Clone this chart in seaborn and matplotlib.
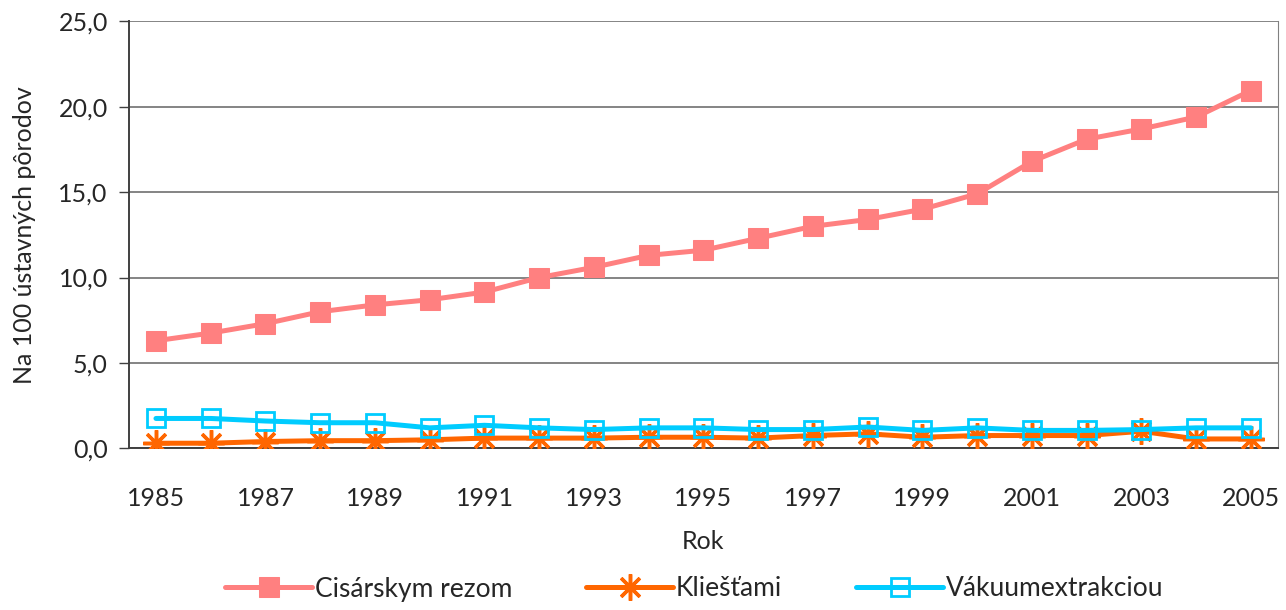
import pandas as pd
import matplotlib.pyplot as plt
import seaborn as sns
from matplotlib.ticker import FuncFormatter, FixedLocator

years = [str(y) for y in range(1985, 2006)]
cisarsky = [6.3, 6.75, 7.3, 8.0, 8.4, 8.7, 9.15, 10.0, 10.6, 11.3, 11.6,
            12.3, 13.0, 13.4, 14.0, 14.9, 16.8, 18.1, 18.7, 19.4, 20.95]
kliestami = [0.3, 0.3, 0.4, 0.45, 0.45, 0.5, 0.6, 0.6, 0.6, 0.65, 0.65,
             0.6, 0.75, 0.85, 0.65, 0.75, 0.75, 0.75, 1.0, 0.55, 0.55]
vakuum = [1.75, 1.75, 1.6, 1.5, 1.5, 1.2, 1.35, 1.2, 1.1, 1.2, 1.2,
          1.1, 1.1, 1.25, 1.05, 1.2, 1.05, 1.05, 1.1, 1.2, 1.2]
labels = ['Cisárskym rezom', 'Kliešťami', 'Vákuumextrakciou']

df = pd.DataFrame({'Rok': years, labels[0]: cisarsky, labels[1]: kliestami, labels[2]: vakuum})

sns.set_style('white')
plt.rcParams['font.family'] = ['Lato', 'DejaVu Sans']

fig, ax = plt.subplots(figsize=(12.86, 6.1), dpi=100)
fig.subplots_adjust(left=0.1, right=0.994, top=0.965, bottom=0.265)

sns.lineplot(data=df, x='Rok', y=labels[0], ax=ax, color='#FF8080', lw=3.6,
             marker='s', markersize=14, markeredgecolor='#FF8080', label=labels[0], zorder=3)
sns.lineplot(data=df, x='Rok', y=labels[1], ax=ax, color='#FF6600', lw=3.6,
             marker=(8, 2, 0), markersize=19, markeredgewidth=2.5, markeredgecolor='#FF6600',
             label=labels[1], zorder=4)
sns.lineplot(data=df, x='Rok', y=labels[2], ax=ax, color='#00CCFF', lw=3.6,
             marker='s', markersize=13, markerfacecolor='none', markeredgewidth=2,
             markeredgecolor='#00CCFF', label=labels[2], zorder=5)

ax.set_xlim(-0.5, len(years) - 0.5)
ax.set_ylim(0, 25)
ax.set_yticks([0, 5, 10, 15, 20, 25])
ax.yaxis.set_major_formatter(FuncFormatter(lambda v, p: f'{v:.1f}'.replace('.', ',')))
ax.yaxis.grid(True, color='#707070', lw=1.2)
ax.set_axisbelow(True)

ax.xaxis.set_major_locator(FixedLocator(range(0, len(years), 2)))
ax.set_xticklabels(years[::2])
ax.xaxis.set_minor_locator(FixedLocator([i - 0.5 for i in range(len(years) + 1)]))
ax.tick_params(axis='x', which='major', length=0, pad=28, labelsize=18)
ax.tick_params(axis='x', which='minor', length=7, width=1, color='#404040', direction='out')
ax.tick_params(axis='y', length=7, width=1, color='#404040', direction='out', labelsize=18,
               left=True, pad=8)

for s in ['left', 'bottom']:
    ax.spines[s].set_color('#404040')
    ax.spines[s].set_linewidth(1.4)
ax.spines['right'].set_color('#808080')
ax.spines['top'].set_visible(False)

ax.set_xlabel('Rok', fontsize=18, labelpad=14)
ax.set_ylabel('Na 100 ústavných pôrodov', fontsize=18, labelpad=16)

ax.legend_.remove()
h, l = ax.get_legend_handles_labels()
fig.legend(h, l, loc='lower center', ncol=3, frameon=False, fontsize=19,
           handlelength=3.3, columnspacing=2.8, handletextpad=0.1,
           bbox_to_anchor=(0.54, -0.025))

fig.savefig('out.png', dpi=100)
